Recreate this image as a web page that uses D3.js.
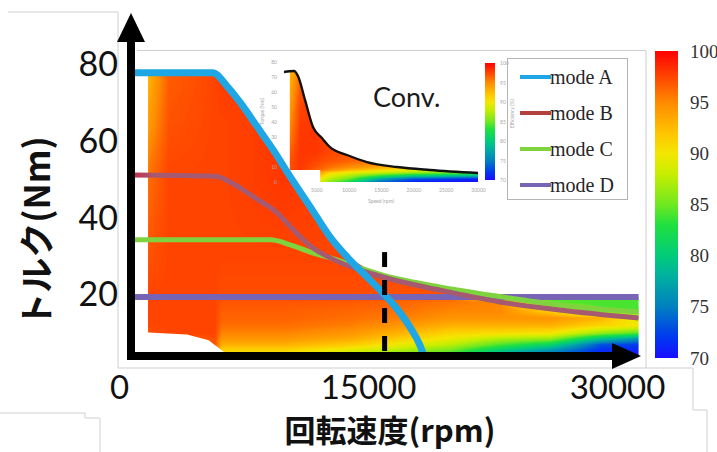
<!DOCTYPE html>
<html>
<head>
<meta charset="utf-8">
<script src="https://cdn.jsdelivr.net/npm/d3@7"></script>
<style>
  html, body { margin: 0; padding: 0; background: #fff; }
  svg { display: block; }
</style>
</head>
<body>
<svg id="chart" width="717" height="452"></svg>
<script>
// ---------------- data ----------------
const speedTicks = [0, 15000, 30000];
const torqueTicks = [20, 40, 60, 80];
const effTicks = [70, 75, 80, 85, 90, 95, 100];

const modeNames = ["mode A", "mode B", "mode C", "mode D"];
// torque limit of each drive mode: [speed rpm, torque Nm]
const modeA = [[800,78],[5640,78],[6540,74.3],[7320,70.1],[8340,63.8],[9300,57.8],[10320,50.8],[11520,43.0],[12720,35.1],[13920,29.1],[14940,24.7],[15900,20.5],[16800,16.1],[17520,11.7],[18120,7.0],[18360,4.2]];
const modeB = [[800,51.3],[5820,51.0],[6720,49.4],[8100,45.6],[9540,41.4],[10500,37.0],[11520,32.8],[12720,29.7],[15900,24.7],[19320,21.3],[22920,18.2],[26520,16.1],[31300,14.0]];
const modeC = [[800,34.4],[9120,34.4],[10320,33.1],[11520,31.2],[12720,29.7],[15900,25.2],[19320,22.1],[22320,20.0],[26520,17.4],[31300,15.6]];
const modeD = [[800,19.5],[31300,19.5]];
const markSpeed = 16000;
const markTorque = 31.2;

// efficiency map (%) of the proposed machine
const mapSpeeds  = [1750, 3000, 5800, 6200, 10000, 14000, 17000, 20000, 23000, 26000, 29000, 31300];
const mapTorques = [4, 5.5, 7, 8.5, 10, 12, 14, 16, 18, 20, 30, 50, 65, 80];
const mapEff = [
  [96, 96.5, 96, 89, 89.5, 86.5, 84, 82, 77, 74, 71, 70.5],
  [96, 96.5, 96.5, 91, 91, 89, 87, 85, 80, 76, 71.5, 71],
  [96.5, 97, 97, 93, 93, 91.5, 89.5, 87.5, 84, 81, 73, 72],
  [97, 97, 97, 94.3, 94.3, 93.3, 91.3, 89.5, 87, 86, 79, 76],
  [97, 97.5, 97.5, 95.2, 95.2, 94.3, 92.8, 91, 90.5, 90, 86, 84],
  [97.5, 97.5, 97.5, 96, 96, 95.4, 94.3, 93, 93, 93, 91, 90],
  [97.5, 97.5, 97.5, 96.4, 96.4, 96, 95.4, 94.5, 94.5, 94.5, 93, 89],
  [97.5, 97.5, 97.5, 96.6, 96.6, 96.3, 95.9, 95.2, 95, 91, 84, 84],
  [97.5, 97.5, 97.5, 96.9, 96.9, 96.7, 96.3, 95.7, 95, 84.5, 84, 84],
  [97.5, 97.5, 97.5, 97.2, 97.2, 97.2, 97, 97, 90, 84.5, 84, 84],
  [97, 97.5, 97.5, 97.5, 97.5, 97.5, 97.5, 97.5, 97.5, 97.5, 97.5, 97.5],
  [96, 97.5, 97.5, 97.5, 98, 97.5, 97.5, 97.5, 97.5, 97.5, 97.5, 97.5],
  [94, 97, 97.5, 97.5, 98, 97.5, 97.5, 97.5, 97.5, 97.5, 97.5, 97.5],
  [92.5, 96.5, 97.5, 98, 98, 97.5, 97.5, 97.5, 97.5, 97.5, 97.5, 97.5]
];
// outline of the measured region: upper edge, then lower edge back to start
const mapTop = [[1750,78],[5640,78],[6540,74.3],[7320,70.1],[8340,63.8],[9300,57.8],[10320,50.8],[11520,43.0],[12720,35.1],[13500,30.5],[15000,26.8],[17000,24.0],[19320,22.1],[21500,20.3],[22500,19.5],[31300,19.5]];
const mapBottom = [[31300,4.2],[6800,4.2],[6300,5.2],[5400,8.2],[4100,9.7],[1750,10.2]];

// conventional machine (inset)
const convSpeedTicks = [5000, 10000, 15000, 20000, 25000, 30000];
const convTorqueTicks = [0, 10, 20, 30, 40, 50, 60, 70, 80];
const convLimit = [[0,73.3],[1550,74.0],[2160,70.7],[3250,54.7],[4480,36.7],[5870,29.3],[7110,23.3],[9740,18.0],[12830,13.3],[17470,10.0],[22570,8.0],[30000,6.0]];
const convSpeeds  = [900, 2500, 5000, 7000, 10000, 15000, 20000, 25000, 30000];
const convTorques = [0, 2, 4, 6, 8, 10, 14, 20, 30, 50, 75];
const convEff = [
  [97, 97, 90, 86, 82, 74, 71, 70.5, 70],
  [97, 97, 91, 87.5, 85, 77, 73, 72, 71],
  [97, 97, 93, 89, 87, 83, 80, 79, 78],
  [97, 97.5, 95, 91, 89, 87.5, 86, 85, 84],
  [97, 98, 96.5, 95, 93, 91, 89.5, 88.5, 87],
  [97, 98, 97, 96, 95, 93.5, 92, 91, 90],
  [97, 98, 97.5, 97, 96.5, 95.5, 94.5, 93.5, 93],
  [96.5, 98, 98, 97.5, 97, 96.5, 96, 95, 94],
  [95.5, 98, 98, 97.5, 97.5, 97, 96.5, 96, 95],
  [94, 97.5, 98, 98, 98, 97.5, 97, 96.5, 96],
  [92.5, 96, 97.5, 98, 98, 97.5, 97, 96.5, 96]
];
const convTop = [[900,73.8],[1550,74.0],[2160,70.7],[3250,54.7],[4480,36.7],[5870,29.3],[7110,23.3],[9740,18.0],[12830,13.3],[17470,10.0],[22570,8.0],[30000,6.0]];
const convBottom = [[30000,0],[5600,0],[5600,8],[900,8]];

// ---------------- styles ----------------
const palette = {
  stops: [70, 72, 75, 78, 80, 83, 85, 88, 90, 92, 95, 97.5, 100],
  colors: ["#1a0dff","#0038f0","#0080c0","#00b0a0","#00cc7a","#20e040","#70e820","#c8ee00","#f4e600","#ffc400","#ff8a00","#ff4400","#ff0000"]
};
const modeStyle = [
  { color: "#1fa6e4", width: 7 },
  { color: "#b2403c", width: 5 },
  { color: "#7fd33e", width: 5 },
  { color: "#7864b4", width: 6 }
];
const latin = "Lato, 'Open Sans', sans-serif";
const cjk = "'Noto Sans CJK JP', 'Noto Sans', sans-serif";
const serif = "'Liberation Serif', 'DejaVu Serif', serif";

// ---------------- scales ----------------
const svg = d3.select("#chart");
const x = d3.scaleLinear().domain([0, 30000]).range([119, 617]);
const y = d3.scaleLinear().domain([0, 80]).range([371.7, 65]);
const ix = d3.scaleLinear().domain([0, 30000]).range([284, 478]);
const iy = d3.scaleLinear().domain([0, 80]).range([182, 62]);
const cb = d3.scaleLinear().domain([70, 100]).range([358, 51]);
const icb = d3.scaleLinear().domain([70, 100]).range([180, 63]);
const color = d3.scaleLinear().domain(palette.stops).range(palette.colors).interpolate(d3.interpolateRgb).clamp(true);
const intFmt = d3.format("d");

const axisLeftX = 131, axisBottomY = 356;

const defs = svg.append("defs");

// colour-bar gradient
const grad = defs.append("linearGradient").attr("id", "effGrad")
  .attr("x1", 0).attr("y1", 1).attr("x2", 0).attr("y2", 0);
palette.stops.forEach((v, i) => {
  grad.append("stop").attr("offset", (v - 70) / 30).attr("stop-color", palette.colors[i]);
});

// mode B is drawn crimson where it runs over the white margin
const gB = defs.append("linearGradient").attr("id", "modeBGrad")
  .attr("gradientUnits", "userSpaceOnUse").attr("x1", x(800)).attr("x2", x(2100)).attr("y1", 0).attr("y2", 0);
gB.append("stop").attr("offset", 0).attr("stop-color", "#c42a4a");
gB.append("stop").attr("offset", 1).attr("stop-color", "#a55a72");

// ---------------- light page frame ----------------
const frame = svg.append("g").attr("fill", "none").attr("stroke", "#cfcfcf").attr("stroke-width", 1);
["M8,12H118V368H693V410H707V452", "M137,50.5H646V368", "M0,413H85V418H100V452"]
  .forEach(d => frame.append("path").attr("d", d));

// ---------------- efficiency field rendering ----------------
const lut = d3.range(0, 301).map(i => d3.rgb(color(70 + i / 10)));
function fieldValue(speeds, torques, grid, s, t) {
  const i = Math.max(0, Math.min(speeds.length - 2, d3.bisectRight(speeds, s) - 1));
  const j = Math.max(0, Math.min(torques.length - 2, d3.bisectRight(torques, t) - 1));
  const fx = Math.max(0, Math.min(1, (s - speeds[i]) / (speeds[i + 1] - speeds[i])));
  const fy = Math.max(0, Math.min(1, (t - torques[j]) / (torques[j + 1] - torques[j])));
  const a = grid[j][i], b = grid[j][i + 1], c = grid[j + 1][i], d = grid[j + 1][i + 1];
  return (a * (1 - fx) + b * fx) * (1 - fy) + (c * (1 - fx) + d * fx) * fy;
}
function drawField(parent, sx, sy, speeds, torques, grid, outline, id) {
  const x0 = Math.floor(sx(speeds[0])), x1 = Math.ceil(sx(speeds[speeds.length - 1]));
  const y0 = Math.floor(sy(torques[torques.length - 1])), y1 = Math.ceil(sy(torques[0]));
  const w = x1 - x0, h = y1 - y0;
  const cv = document.createElement("canvas");
  cv.width = w; cv.height = h;
  const ctx = cv.getContext("2d");
  const img = ctx.createImageData(w, h);
  for (let py = 0; py < h; py++) {
    const t = sy.invert(y0 + py + 0.5);
    for (let px = 0; px < w; px++) {
      const s = sx.invert(x0 + px + 0.5);
      const v = fieldValue(speeds, torques, grid, s, t);
      const c = lut[Math.max(0, Math.min(300, Math.round((v - 70) * 10)))];
      const k = (py * w + px) * 4;
      img.data[k] = c.r; img.data[k + 1] = c.g; img.data[k + 2] = c.b; img.data[k + 3] = 255;
    }
  }
  ctx.putImageData(img, 0, 0);
  const outlinePath = d3.line().x(d => sx(d[0])).y(d => sy(d[1]))(outline) + "Z";
  defs.append("clipPath").attr("id", id).append("path").attr("d", outlinePath);
  parent.append("image")
    .attr("href", cv.toDataURL())
    .attr("x", x0).attr("y", y0).attr("width", w).attr("height", h)
    .attr("preserveAspectRatio", "none")
    .attr("clip-path", `url(#${id})`);
}

// main map
drawField(svg, x, y, mapSpeeds, mapTorques, mapEff, mapTop.concat(mapBottom), "mapClip");

// ---------------- inset: conventional machine ----------------
const inset = svg.append("g");
drawField(inset, ix, iy, convSpeeds, convTorques, convEff, convTop.concat(convBottom), "convClip");
inset.append("path")
  .datum(convLimit)
  .attr("fill", "none").attr("stroke", "#111").attr("stroke-width", 2.4)
  .attr("d", d3.line().x(d => ix(d[0])).y(d => iy(d[1])).curve(d3.curveMonotoneX));

const tinyFont = g => g.selectAll("text").attr("font-family", latin).attr("font-size", 5).attr("fill", "#a8a8a8");
inset.append("g").attr("transform", `translate(0,${iy(0) + 3})`)
  .call(d3.axisBottom(ix).tickValues(convSpeedTicks).tickFormat(intFmt).tickSize(0).tickPadding(3))
  .call(g => g.select(".domain").remove()).call(tinyFont);
inset.append("g").attr("transform", `translate(${ix(0) - 6},0)`)
  .call(d3.axisLeft(iy).tickValues(convTorqueTicks).tickSize(0).tickPadding(1))
  .call(g => g.select(".domain").remove()).call(tinyFont);
inset.append("text").attr("x", ix(15000)).attr("y", 203).attr("text-anchor", "middle")
  .attr("font-family", latin).attr("font-size", 5).attr("fill", "#a8a8a8").text("Speed (rpm)");
inset.append("text").attr("transform", `translate(264,${iy(47)}) rotate(-90)`).attr("text-anchor", "middle")
  .attr("font-family", latin).attr("font-size", 5).attr("fill", "#a8a8a8").text("Torque (Nm)");

// inset colour bar
inset.append("rect").attr("x", 485).attr("y", icb(100)).attr("width", 10).attr("height", icb(70) - icb(100))
  .attr("fill", "url(#effGrad)");
inset.append("g").attr("transform", "translate(495,0)")
  .call(d3.axisRight(icb).tickValues(effTicks).tickSize(0).tickPadding(5))
  .call(g => g.select(".domain").remove()).call(tinyFont);
inset.append("text").attr("transform", `translate(514,${icb(87)}) rotate(-90)`).attr("text-anchor", "middle")
  .attr("font-family", latin).attr("font-size", 5).attr("fill", "#a8a8a8").text("Efficiency (%)");

inset.append("text").attr("x", 373).attr("y", 107)
  .attr("font-family", latin).attr("font-size", 27).attr("fill", "#1a1a1a").text("Conv.");

// ---------------- mode limit lines ----------------
const modeLine = d3.line().x(d => x(d[0])).y(d => y(d[1])).curve(d3.curveMonotoneX);
const modes = [modeA, modeB, modeC, modeD];
// draw order: D, C, B, A so that A stays on top
[3, 2, 1, 0].forEach(i => {
  svg.append("path").datum(modes[i])
    .attr("fill", "none")
    .attr("stroke", i === 1 ? "url(#modeBGrad)" : modeStyle[i].color)
    .attr("stroke-width", modeStyle[i].width)
    .attr("stroke-linejoin", "round")
    .attr("d", modeLine);
});

// operating-point marker
svg.append("line")
  .attr("x1", x(markSpeed)).attr("x2", x(markSpeed))
  .attr("y1", y(markTorque)).attr("y2", axisBottomY - 2)
  .attr("stroke", "#000").attr("stroke-width", 5).attr("stroke-dasharray", "15,13");

// ---------------- legend ----------------
const legend = svg.append("g");
legend.append("rect").attr("x", 507.5).attr("y", 58.5).attr("width", 120).attr("height", 141)
  .attr("fill", "none").attr("stroke", "#b4b4b4").attr("stroke-width", 1);
const ly = d3.scaleLinear().domain([0, modeNames.length - 1]).range([77, 185]);
modeNames.forEach((name, i) => {
  legend.append("line").attr("x1", 520).attr("x2", 551).attr("y1", ly(i)).attr("y2", ly(i))
    .attr("stroke", modeStyle[i].color).attr("stroke-width", 4);
  legend.append("text").attr("x", 550).attr("y", ly(i)).attr("dy", "0.33em")
    .attr("font-family", serif).attr("font-size", 20).attr("fill", "#262626").text(name);
});

// ---------------- main colour bar ----------------
svg.append("rect").attr("x", 655).attr("y", cb(100)).attr("width", 23).attr("height", cb(70) - cb(100))
  .attr("fill", "url(#effGrad)");
svg.append("g").attr("transform", "translate(678,0)")
  .call(d3.axisRight(cb).tickValues(effTicks).tickSize(0).tickPadding(12))
  .call(g => g.select(".domain").remove())
  .call(g => g.selectAll("text").attr("font-family", serif).attr("font-size", 19).attr("fill", "#333"));

// ---------------- axes with arrows ----------------
const axes = svg.append("g").attr("fill", "#000").attr("stroke", "#000");
axes.append("line").attr("x1", axisLeftX).attr("x2", axisLeftX).attr("y1", 38).attr("y2", axisBottomY + 4)
  .attr("stroke-width", 8);
axes.append("path").attr("stroke", "none")
  .attr("d", `M${axisLeftX},13L${axisLeftX + 14},42L${axisLeftX - 14},42Z`);
axes.append("line").attr("x1", axisLeftX - 4).attr("x2", 616).attr("y1", axisBottomY).attr("y2", axisBottomY)
  .attr("stroke-width", 8);
axes.append("path").attr("stroke", "none")
  .attr("d", `M641,${axisBottomY}L612,${axisBottomY - 13}L612,${axisBottomY + 13}Z`);

svg.append("g").attr("transform", `translate(${axisLeftX},0)`)
  .call(d3.axisLeft(y).tickValues(torqueTicks).tickSize(0).tickPadding(13))
  .call(g => g.select(".domain").remove())
  .call(g => g.selectAll("text").attr("font-family", latin).attr("font-size", 34).attr("fill", "#111"));
svg.append("g").attr("transform", `translate(0,${axisBottomY})`)
  .call(d3.axisBottom(x).tickValues(speedTicks).tickFormat(intFmt).tickSize(0).tickPadding(20))
  .call(g => g.select(".domain").remove())
  .call(g => g.selectAll("text").attr("font-family", latin).attr("font-size", 33).attr("fill", "#111"));

svg.append("text").attr("x", 390).attr("y", 442).attr("text-anchor", "middle")
  .attr("font-family", cjk).attr("font-weight", "bold").attr("font-size", 31).attr("fill", "#111")
  .text("回転速度(rpm)");
svg.append("text").attr("transform", "translate(34,232) rotate(-90)").attr("text-anchor", "middle")
  .attr("dominant-baseline", "central")
  .attr("font-family", cjk).attr("font-weight", "bold").attr("font-size", 35).attr("fill", "#111")
  .text("トルク(Nm)");
</script>
</body>
</html>
